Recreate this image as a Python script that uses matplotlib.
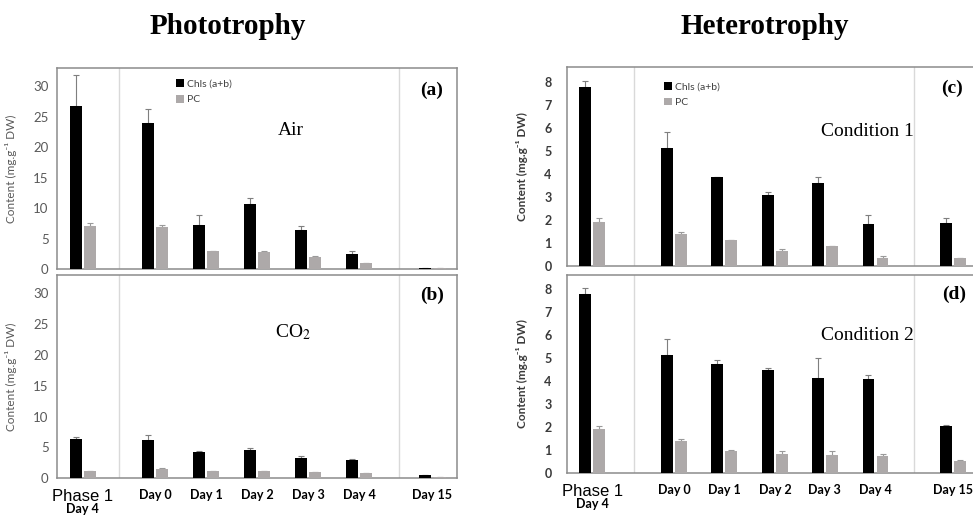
import matplotlib
matplotlib.use("Agg")
import matplotlib.pyplot as plt
import numpy as np

plt.rcParams['font.family'] = ['Lato', 'DejaVu Sans']
plt.rcParams['mathtext.fontset'] = 'stix'

# categories
days = ["Phase 1", "Day 0", "Day 1", "Day 2", "Day 3", "Day 4", "Day 15"]
series = ["Chls (a+b)", "PC"]

# (a) phototrophy, air
air_chls = [26.7, 23.9, 7.15, 10.7, 6.4, 2.5, 0.15]
air_chls_err = [5.2, 2.3, 1.75, 0.9, 0.7, 0.5, 0.0]
air_pc = [7.0, 6.9, 2.9, 2.8, 2.0, 0.95, 0.2]
air_pc_err = [0.5, 0.35, 0.1, 0.2, 0.15, 0.0, 0.0]

# (b) phototrophy, CO2
co2_chls = [6.3, 6.1, 4.3, 4.6, 3.3, 2.9, 0.5]
co2_chls_err = [0.35, 0.9, 0.05, 0.3, 0.3, 0.2, 0.0]
co2_pc = [1.2, 1.45, 1.1, 1.2, 0.9, 0.8, 0.15]
co2_pc_err = [0.0, 0.1, 0.0, 0.0, 0.0, 0.0, 0.0]

# (c) heterotrophy, condition 1
c1_chls = [7.77, 5.14, 3.88, 3.07, 3.62, 1.82, 1.85]
c1_chls_err = [0.28, 0.7, 0.0, 0.14, 0.23, 0.41, 0.22]
c1_pc = [1.91, 1.39, 1.13, 0.65, 0.85, 0.33, 0.33]
c1_pc_err = [0.16, 0.1, 0.0, 0.09, 0.03, 0.12, 0.03]

# (d) heterotrophy, condition 2
c2_chls = [7.77, 5.11, 4.72, 4.49, 4.12, 4.08, 2.03]
c2_chls_err = [0.26, 0.71, 0.2, 0.08, 0.88, 0.2, 0.05]
c2_pc = [1.91, 1.37, 0.97, 0.82, 0.8, 0.72, 0.54]
c2_pc_err = [0.14, 0.1, 0.04, 0.12, 0.17, 0.1, 0.04]

BLACK = "#000000"
GREY = "#ADA9A9"
SPINE = "#8c8c8c"
SEP = "#d9d9d9"


def draw(ax, pos, seps, chls, chls_err, pc, pc_err, ymax, yticks, dark):
    pos = np.array(pos)
    w = 0.235
    off = 0.14
    z = np.zeros(len(pos))
    ax.bar(pos - off, chls, w, color=BLACK, label=series[0], zorder=3)
    ax.bar(pos + off, pc, w, color=GREY, label=series[1], zorder=3)
    ax.errorbar(pos - off, chls, yerr=[z, chls_err], fmt='none', ecolor="#7f7f7f",
                elinewidth=0.8, capsize=2.5, capthick=0.8, zorder=2)
    ax.errorbar(pos + off, pc, yerr=[z, pc_err], fmt='none', ecolor="#9a9a9a",
                elinewidth=0.8, capsize=2.5, capthick=0.8, zorder=2)
    for s in seps:
        ax.axvline(s, color=SEP, lw=1, zorder=1)
    ax.set_ylim(0, ymax)
    ax.set_yticks(yticks)
    for sp in ax.spines.values():
        sp.set_color(SPINE)
        sp.set_linewidth(1.1)
    tc = "#3a3a3a" if dark else "#595959"
    ax.tick_params(axis='y', length=0, pad=6 if not dark else 11,
                   labelsize=9 if dark else 9.5, colors=tc)
    if dark:
        for t in ax.get_yticklabels():
            t.set_fontweight('bold')
    ax.set_ylabel("Content (mg.g\u207b\u00b9 DW)", fontsize=8.5, color=tc,
                  fontweight='bold' if dark else 'normal')


def xlabels(ax, pos):
    ax.set_xticks(pos)
    ax.set_xticklabels(days)
    ax.tick_params(axis='x', length=0, pad=8)
    for i, t in enumerate(ax.get_xticklabels()):
        if i == 0:
            t.set_fontfamily(['Liberation Sans'])
            t.set_fontsize(12)
        else:
            t.set_fontweight('bold')
            t.set_fontsize(9)
    ax.text(pos[0], -0.155, "Day 4", transform=ax.get_xaxis_transform(),
            ha='center', va='center', fontsize=9, fontweight='bold')


def legend(ax, x, y):
    leg = ax.legend(loc='upper left', bbox_to_anchor=(x, y), frameon=False,
                    fontsize=7.5, handlelength=0.75, handleheight=0.75,
                    handletextpad=0.3, labelspacing=0.6, borderpad=0)
    for t in leg.get_texts():
        t.set_color("#404040")


fig = plt.figure(figsize=(9.73, 5.15), dpi=100)

pos_left = [0.503, 1.928, 2.928, 3.928, 4.928, 5.928, 7.36]
seps_left = [1.222, 6.699]
pos_right = [0.50, 2.13, 3.13, 4.14, 5.13, 6.14, 7.68]
seps_right = [1.34, 6.90]

ax_a = fig.add_axes([0.0586, 0.4777, 0.4111, 0.3903])
ax_b = fig.add_axes([0.0586, 0.0718, 0.4111, 0.3942])
ax_c = fig.add_axes([0.5827, 0.4835, 0.4214, 0.3864])
ax_d = fig.add_axes([0.5827, 0.0816, 0.4214, 0.3845])

draw(ax_a, pos_left, seps_left, air_chls, air_chls_err, air_pc, air_pc_err, 33, range(0, 31, 5), False)
draw(ax_b, pos_left, seps_left, co2_chls, co2_chls_err, co2_pc, co2_pc_err, 33, range(0, 31, 5), False)
draw(ax_c, pos_right, seps_right, c1_chls, c1_chls_err, c1_pc, c1_pc_err, 8.65, range(0, 9), True)
draw(ax_d, pos_right, seps_right, c2_chls, c2_chls_err, c2_pc, c2_pc_err, 8.61, range(0, 9), True)

for ax in (ax_a, ax_b):
    ax.set_xlim(0, 7.843)
    ax.yaxis.set_label_coords(-0.1, 0.5)
for ax in (ax_c, ax_d):
    ax.set_xlim(0, 8.16)
    ax.yaxis.set_label_coords(-0.095, 0.5)

ax_a.set_xticks([])
ax_c.set_xticks([])
xlabels(ax_b, pos_left)
xlabels(ax_d, pos_right)

legend(ax_a, 0.285, 0.97)
legend(ax_c, 0.225, 0.95)

serif = ['Liberation Serif', 'DejaVu Serif']
ax_a.text(0.585, 0.687, "Air", transform=ax_a.transAxes, ha='center', va='center',
          fontsize=14, family=serif)
ax_b.text(0.59, 0.72, "CO$_2$", transform=ax_b.transAxes, ha='center', va='center',
          fontsize=14, family=serif)
ax_c.text(0.732, 0.678, "Condition 1", transform=ax_c.transAxes, ha='center', va='center',
          fontsize=14, family=serif)
ax_d.text(0.734, 0.692, "Condition 2", transform=ax_d.transAxes, ha='center', va='center',
          fontsize=14, family=serif)

for ax, lab, x, y in ((ax_a, "(a)", 0.9375, 0.89), (ax_b, "(b)", 0.9375, 0.90),
                      (ax_c, "(c)", 0.94, 0.894), (ax_d, "(d)", 0.945, 0.90)):
    ax.text(x, y, lab, transform=ax.transAxes, ha='center', va='center',
            fontsize=14, fontweight='bold', family=serif)

fig.text(228 / 973, 1 - 26 / 515, "Phototrophy", ha='center', va='center',
         fontsize=21, fontweight='bold', family=serif)
fig.text(765 / 973, 1 - 26 / 515, "Heterotrophy", ha='center', va='center',
         fontsize=21, fontweight='bold', family=serif)

fig.savefig("out.png", dpi=100)
